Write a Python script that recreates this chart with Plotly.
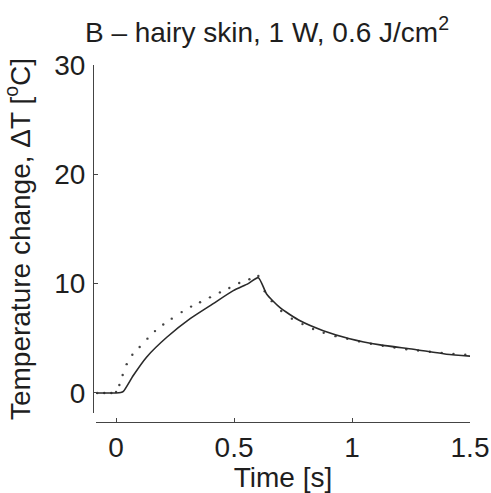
import plotly.graph_objects as go

t_solid = [-0.09, 0.0, 0.02, 0.031, 0.073, 0.13, 0.215, 0.314, 0.41, 0.497, 0.56, 0.603,
           0.638, 0.695, 0.78, 0.878, 0.99, 1.119, 1.26, 1.40, 1.507]
dT_solid = [0.0, 0.0, 0.05, 0.15, 1.6, 3.3, 5.1, 6.8, 8.15, 9.36, 10.0, 10.55,
            9.06, 7.8, 6.6, 5.7, 4.97, 4.4, 4.0, 3.55, 3.36]

t_dot = [-0.08, -0.05, -0.02, 0.0, 0.014, 0.028, 0.045, 0.069, 0.10, 0.133, 0.165, 0.2, 0.236,
         0.278, 0.318, 0.356, 0.398, 0.44, 0.48, 0.522, 0.565, 0.603,
         0.63, 0.66, 0.70, 0.745, 0.79, 0.835, 0.88, 0.93, 0.98, 1.03, 1.08, 1.13,
         1.18, 1.23, 1.28, 1.33, 1.38, 1.43, 1.48]
dT_dot = [0.0, 0.0, 0.0, 0.1, 0.73, 1.64, 2.64, 3.5, 4.2, 4.97, 5.66, 6.27, 6.8,
          7.4, 7.9, 8.3, 8.75, 9.2, 9.6, 10.06, 10.4, 10.7,
          9.3, 8.4, 7.5, 6.8, 6.3, 5.85, 5.5, 5.2, 4.95, 4.72, 4.5, 4.32,
          4.15, 4.0, 3.88, 3.77, 3.67, 3.58, 3.5]

x_ticks = [0, 0.5, 1, 1.5]
x_labels = ["0", "0.5", "1", "1.5"]
y_ticks = [0, 10, 20, 30]
y_labels = ["0", "10", "20", "30"]

FONT = "Liberation Sans, Arial, Helvetica, sans-serif"
FS = 28
TXT = "#1e1e1e"
W, H = 491, 493
ml, mr, mt, mb = 93, 21, 65, 71
pw, ph = W - ml - mr, H - mt - mb

fig = go.Figure()
fig.add_trace(go.Scatter(x=t_dot, y=dT_dot, mode="markers",
                         marker=dict(size=2.4, color="#444444"), showlegend=False))
fig.add_trace(go.Scatter(x=t_solid, y=dT_solid, mode="lines",
                         line=dict(color="#2a2a2a", width=1.6, shape="spline", smoothing=0.6),
                         showlegend=False))

axis_common = dict(showline=True, linecolor="#444444", linewidth=1.2, ticks="inside",
                   ticklen=4, tickcolor="#444444", showgrid=False, zeroline=False,
                   automargin=False,
                   tickfont=dict(family=FONT, size=FS, color=TXT))

fig.update_layout(
    width=W, height=H,
    margin=dict(l=ml, r=mr, t=mt, b=mb, autoexpand=False),
    plot_bgcolor="white", paper_bgcolor="white",
    font=dict(family=FONT, size=FS, color=TXT),
    title=dict(text="B – hairy skin, 1 W, 0.6 J/cm<sup>2</sup>",
               x=267 / W, xref="container", xanchor="center",
               y=1 - 32 / H, yref="container", yanchor="middle",
               font=dict(family=FONT, size=FS, color=TXT)),
    xaxis=dict(axis_common, domain=[3 / pw, 1], range=[-0.085, 1.5],
               tickvals=x_ticks, ticktext=x_labels, anchor="free", position=0,
               title=dict(text="Time [s]", standoff=2,
                          font=dict(family=FONT, size=FS, color=TXT))),
    yaxis=dict(axis_common, domain=[9 / ph, 1], range=[-1.83, 30],
               tickvals=y_ticks, ticktext=y_labels, anchor="free", position=0,
               ticklabelstandoff=2,
               title=dict(text="Temperature change, ΔT [<sup>o</sup>C]", standoff=18,
                          font=dict(family=FONT, size=FS, color=TXT))),
)

fig.write_html("out.html")
